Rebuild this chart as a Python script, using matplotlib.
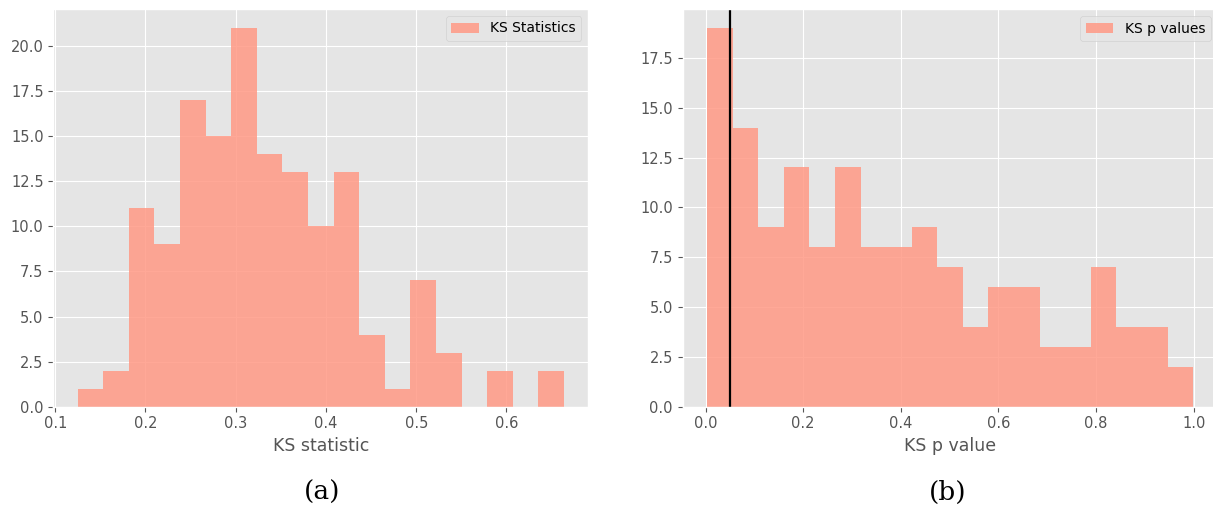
import numpy as np
import matplotlib
matplotlib.use("Agg")
import matplotlib.pyplot as plt

plt.style.use("ggplot")

# KS statistic histogram (19 bins)
ks_stat_range = (0.1248, 0.6637)
ks_stat_counts = [1, 2, 11, 9, 17, 15, 21, 14, 13, 10, 13, 4, 1, 7, 3, 0, 2, 0, 2]

# KS p value histogram (19 bins)
ks_p_range = (0.003, 0.9988)
ks_p_counts = [19, 14, 9, 12, 8, 12, 8, 8, 9, 7, 4, 6, 6, 3, 3, 7, 4, 4, 2]
alpha_level = 0.05

bar_color = (1.0, 0.60, 0.52)

W, H = 1213, 509
fig = plt.figure(figsize=(W / 100, H / 100), dpi=100)
fig.patch.set_facecolor("white")

def px_axes(x0, x1, y0, y1):
    return fig.add_axes([x0 / W, 1 - y1 / H, (x1 - x0) / W, (y1 - y0) / H])

ax1 = px_axes(53.3, 588.3, 9.0, 406.7)
ax2 = px_axes(682.7, 1217.5, 9.0, 406.7)

def draw_hist(ax, rng, counts, label):
    edges = np.linspace(rng[0], rng[1], len(counts) + 1)
    ax.hist(edges[:-1], bins=edges, weights=counts, color=bar_color,
            alpha=0.85, label=label)

draw_hist(ax1, ks_stat_range, ks_stat_counts, "KS Statistics")
draw_hist(ax2, ks_p_range, ks_p_counts, "KS p values")
ax2.axvline(alpha_level, color="black", lw=1.6)

ax1.set_xticks([0.1, 0.2, 0.3, 0.4, 0.5, 0.6])
ax2.set_xticks([0.0, 0.2, 0.4, 0.6, 0.8, 1.0])

for ax, xl in [(ax1, "KS statistic"), (ax2, "KS p value")]:
    ax.tick_params(labelsize=10.5, colors="#555555")
    ax.set_xlabel(xl, fontsize=12.5, color="#555555")
    ax.yaxis.set_major_formatter(matplotlib.ticker.FormatStrFormatter("%.1f"))
    ax.legend(loc="upper right", fontsize=10)

fig.text(321.7 / W, 1 - 492 / H, "(a)", ha="center", va="center",
         fontsize=19, family="DejaVu Serif")
fig.text(948 / W, 1 - 492 / H, "(b)", ha="center", va="center",
         fontsize=19, family="DejaVu Serif")

fig.savefig("out.png", dpi=100)
